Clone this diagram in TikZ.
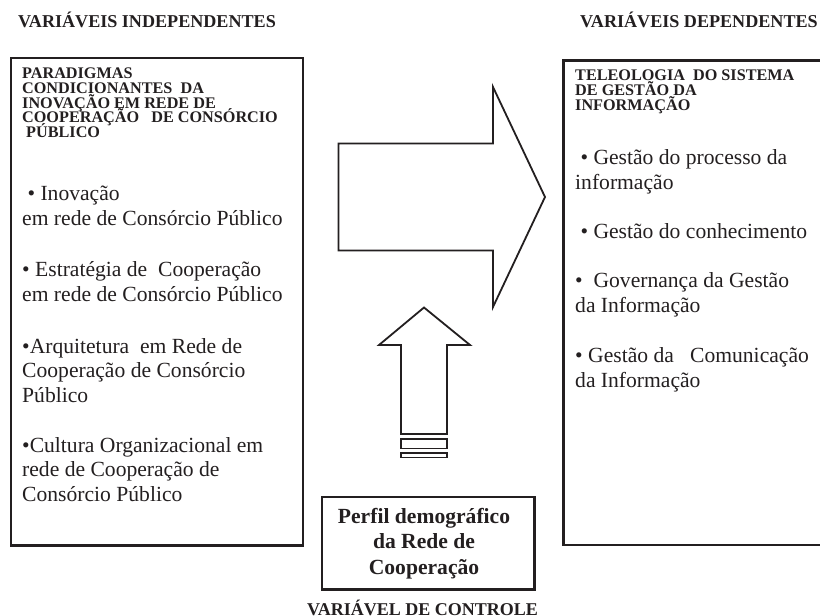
\documentclass[tikz,border=0pt]{standalone}
\usepackage{fontspec}
\setmainfont{Liberation Serif}
\usetikzlibrary{positioning}
\definecolor{tinta}{HTML}{231F20}
\newcommand\semsalto{\lineskiplimit-50pt\relax}
\tikzset{>=stealth,
  caixa/.style={draw=tinta, line width=2.5pt, inner sep=0pt},
  seta/.style={draw=tinta, line width=1.8pt, fill=white},
  titulo/.style={font=\bfseries\fontsize{18.1}{20}\selectfont, text=tinta, inner sep=0pt, anchor=base west},
  cabeca/.style={font=\bfseries\fontsize{16.2}{14.7}\selectfont\semsalto, text=tinta, align=left, inner sep=0pt, anchor=base west},
  item/.style={font=\fontsize{21.6}{24.3}\selectfont\semsalto, text=tinta, align=left, inner sep=0pt, anchor=base west}
}

\begin{document}
\begin{tikzpicture}[x=1pt, y=-1pt]
\useasboundingbox (0,0) rectangle (820,616);
\clip (0,0) rectangle (820,616);
\node[caixa, minimum width=292pt, minimum height=487.5pt, anchor=north west] (indep) at (9.5,56.5) {};
\node[caixa, minimum width=280pt, minimum height=484.5pt, anchor=north west] (dep) at (562,59) {};
\node[caixa, minimum width=212.5pt, minimum height=92.5pt, anchor=north west] (perfil) at (320.5,495.5) {};
\node[titulo] (tind) at (18,27) {VARIÁVEIS INDEPENDENTES};
\node[titulo] (tdep) at (580,27) {VARIÁVEIS DEPENDENTES};
\node[titulo, anchor=base, font=\bfseries\fontsize{18}{20}\selectfont] (tctrl) at (422.5,615.3) {VARIÁVEL DE CONTROLE};
\node[cabeca] (parad) at (22,137.5) {PARADIGMAS\\CONDICIONANTES\ \ DA\\INOVAÇÃO EM REDE DE\\COOPERAÇÃO\ \ \ DE CONSÓRCIO\\\ PÚBLICO};
\node[cabeca, font=\bfseries\fontsize{16.2}{15}\selectfont\semsalto] (teleo) at (575,110.7) {TELEOLOGIA\ \ DO SISTEMA\\DE GESTÃO DA\\INFORMAÇÃO};
\node[item] (i1) at (22,225) {\ • Inovação\\em rede de Consórcio Público};
\node[item] (i2) at (22,301) {• Estratégia de\ \ Cooperação\\em rede de Consórcio Público};
\node[item] (i3) at (22,402) {•Arquitetura\ \ em Rede de\\Cooperação de Consórcio\\Público};
\node[item] (i4) at (22,501) {•Cultura Organizacional em\\rede de Cooperação de\\Consórcio Público};
\node[item] (d1) at (575,189) {\ • Gestão do processo da\\informação};
\node[item] (d2) at (575,238) {\ • Gestão do conhecimento};
\node[item] (d3) at (575,312) {•\ \ Governança da Gestão\\da Informação};
\node[item] (d4) at (575,387) {• Gestão da\ \ \ Comunicação\\da Informação};
\node[item, anchor=base, align=center, font=\bfseries\fontsize{21.6}{25.5}\selectfont\semsalto] (tperfil) at (424,574) {Perfil demográfico\\da Rede de\\Cooperação};
\draw[seta] (338.5,143.5) -- (493,143.5) -- (493,87) -- (545,197) -- (493,307) -- (493,250.5) -- (338.5,250.5) -- cycle;
\draw[seta] (424,307.5) -- (470,345) -- (447,345) -- (447,434) -- (401,434) -- (401,345) -- (379,345) -- cycle;
\draw[seta] (401,439) rectangle (447,448.5);
\draw[seta] (401,453) rectangle (447,457.5);
\end{tikzpicture}
\end{document}
